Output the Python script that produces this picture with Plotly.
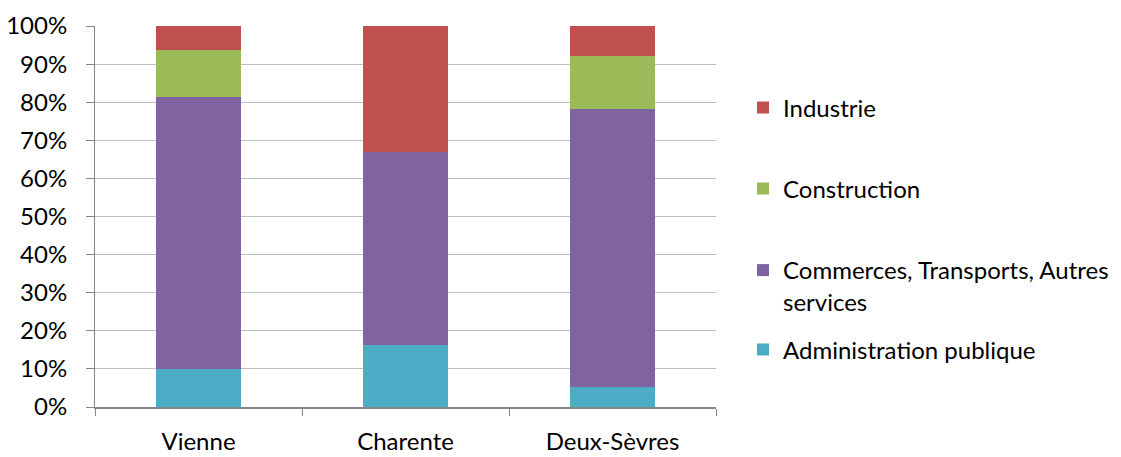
import plotly.graph_objects as go

categories = ["Vienne", "Charente", "Deux-Sèvres"]
admin = [9.9, 16.4, 5.3]
commerce = [71.4, 50.4, 72.8]
construction = [12.3, 0.0, 13.9]
industrie = [6.4, 33.2, 8.0]
y_ticks = [0, 10, 20, 30, 40, 50, 60, 70, 80, 90, 100]
y_tick_labels = ["0%", "10%", "20%", "30%", "40%", "50%", "60%", "70%", "80%", "90%", "100%"]

FONT = "Lato"
FS = 24

series = [
    ("Administration publique", admin, "#4BACC6", "legend4"),
    ("Commerces, Transports, Autres<br>services", commerce, "#8064A2", "legend3"),
    ("Construction", construction, "#9BBB59", "legend2"),
    ("Industrie", industrie, "#C0504D", "legend"),
]

fig = go.Figure()
for name, vals, color, leg in series:
    fig.add_trace(go.Bar(x=categories, y=vals, name=name, marker_color=color,
                         marker_line_width=0, legend=leg, showlegend=True))

W, H = 1121, 457
L, R, T, B = 95, 716, 26, 407

def py(px):
    return (B - px) / (B - T)

lx = (743 - L) / (R - L)
legend_common = dict(x=lx, xanchor="left", yanchor="middle", font=dict(family=FONT, size=FS, color="#000000"),
                     bgcolor="rgba(0,0,0,0)", valign="top", visible=True)

fig.update_layout(
    width=W, height=H,
    margin=dict(l=L, r=W - R, t=T, b=H - B, autoexpand=False),
    barmode="stack", bargap=0.594,
    plot_bgcolor="white", paper_bgcolor="white",
    showlegend=True,
    font=dict(family=FONT, size=FS, color="#000000"),
    legend=dict(y=py(108), **legend_common),
    legend2=dict(y=py(189), **legend_common),
    legend3=dict(y=py(286), **legend_common),
    legend4=dict(y=py(350), **legend_common),
    xaxis=dict(showline=True, linecolor="#868686", linewidth=2, ticks="outside",
               tickson="boundaries", ticklen=7, tickcolor="#868686", tickwidth=1,
               ticklabelstandoff=12, showgrid=False, automargin=False),
    yaxis=dict(range=[0, 100], tickvals=y_ticks, ticktext=y_tick_labels, showline=True,
               linecolor="#868686", linewidth=1, ticks="outside", ticklen=8,
               tickcolor="#868686", showgrid=True, gridcolor="#BFBFBF", gridwidth=1,
               ticklabelstandoff=14, zeroline=False, automargin=False),
)

fig.write_html("out.html", config={"displayModeBar": False},
               post_script="document.body.style.margin='0';document.body.style.overflow='hidden';")
